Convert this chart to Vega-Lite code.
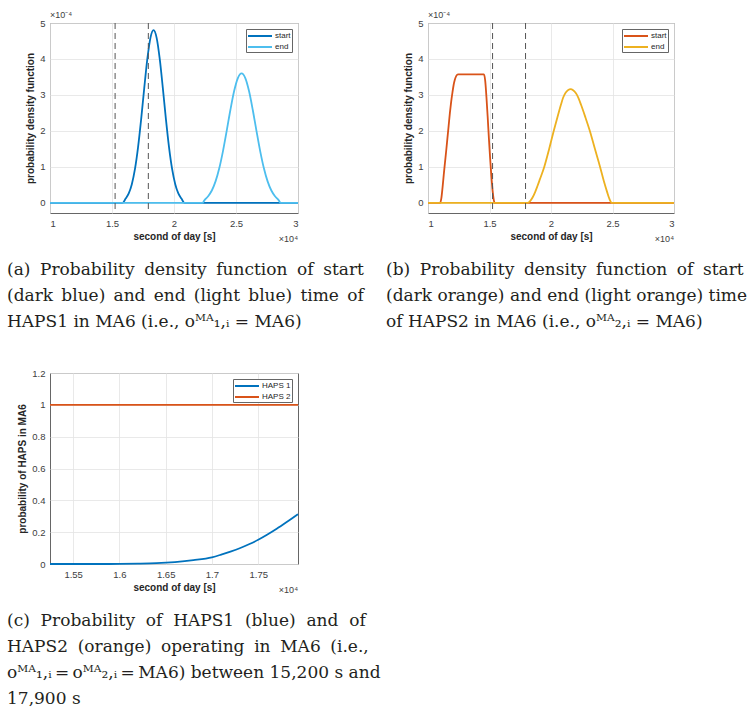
{
  "$schema": "https://vega.github.io/schema/vega-lite/v6.json",
  "padding": {"left": 6, "top": 10, "right": 0, "bottom": 0},
  "background": "white",
  "datasets": {
    "a": [
      {"x": 10000, "pdf": 0, "series": "start"},
      {"x": 15850, "pdf": 0, "series": "start"},
      {"x": 16100, "pdf": 0.12e-4, "series": "start"},
      {"x": 16350, "pdf": 0.263e-4, "series": "start"},
      {"x": 16600, "pdf": 0.52e-4, "series": "start"},
      {"x": 16850, "pdf": 0.937e-4, "series": "start"},
      {"x": 17100, "pdf": 1.544e-4, "series": "start"},
      {"x": 17350, "pdf": 2.32e-4, "series": "start"},
      {"x": 17600, "pdf": 3.19e-4, "series": "start"},
      {"x": 17850, "pdf": 4.0e-4, "series": "start"},
      {"x": 18100, "pdf": 4.587e-4, "series": "start"},
      {"x": 18350, "pdf": 4.8e-4, "series": "start"},
      {"x": 18600, "pdf": 4.587e-4, "series": "start"},
      {"x": 18850, "pdf": 4.0e-4, "series": "start"},
      {"x": 19100, "pdf": 3.19e-4, "series": "start"},
      {"x": 19350, "pdf": 2.32e-4, "series": "start"},
      {"x": 19600, "pdf": 1.544e-4, "series": "start"},
      {"x": 19850, "pdf": 0.937e-4, "series": "start"},
      {"x": 20100, "pdf": 0.52e-4, "series": "start"},
      {"x": 20350, "pdf": 0.263e-4, "series": "start"},
      {"x": 20600, "pdf": 0.12e-4, "series": "start"},
      {"x": 20850, "pdf": 0, "series": "start"},
      {"x": 30000, "pdf": 0, "series": "start"},
      {"x": 10000, "pdf": 0, "series": "end"},
      {"x": 22300, "pdf": 0, "series": "end"},
      {"x": 22450, "pdf": 0.07e-4, "series": "end"},
      {"x": 22750, "pdf": 0.185e-4, "series": "end"},
      {"x": 23050, "pdf": 0.345e-4, "series": "end"},
      {"x": 23350, "pdf": 0.598e-4, "series": "end"},
      {"x": 23650, "pdf": 0.962e-4, "series": "end"},
      {"x": 23950, "pdf": 1.44e-4, "series": "end"},
      {"x": 24250, "pdf": 2.003e-4, "series": "end"},
      {"x": 24550, "pdf": 2.589e-4, "series": "end"},
      {"x": 24850, "pdf": 3.109e-4, "series": "end"},
      {"x": 25150, "pdf": 3.47e-4, "series": "end"},
      {"x": 25450, "pdf": 3.6e-4, "series": "end"},
      {"x": 25750, "pdf": 3.47e-4, "series": "end"},
      {"x": 26050, "pdf": 3.109e-4, "series": "end"},
      {"x": 26350, "pdf": 2.589e-4, "series": "end"},
      {"x": 26650, "pdf": 2.003e-4, "series": "end"},
      {"x": 26950, "pdf": 1.44e-4, "series": "end"},
      {"x": 27250, "pdf": 0.962e-4, "series": "end"},
      {"x": 27550, "pdf": 0.598e-4, "series": "end"},
      {"x": 27850, "pdf": 0.345e-4, "series": "end"},
      {"x": 28150, "pdf": 0.185e-4, "series": "end"},
      {"x": 28450, "pdf": 0.07e-4, "series": "end"},
      {"x": 28600, "pdf": 0, "series": "end"},
      {"x": 30000, "pdf": 0, "series": "end"}
    ],
    "b": [
      {"x": 10000, "pdf": 0, "series": "start"},
      {"x": 10980, "pdf": 0, "series": "start"},
      {"x": 11080, "pdf": 0.12e-4, "series": "start"},
      {"x": 11180, "pdf": 0.42e-4, "series": "start"},
      {"x": 11280, "pdf": 0.78e-4, "series": "start"},
      {"x": 11380, "pdf": 1.12e-4, "series": "start"},
      {"x": 11480, "pdf": 1.45e-4, "series": "start"},
      {"x": 11580, "pdf": 1.8e-4, "series": "start"},
      {"x": 11680, "pdf": 2.15e-4, "series": "start"},
      {"x": 11780, "pdf": 2.5e-4, "series": "start"},
      {"x": 11880, "pdf": 2.8e-4, "series": "start"},
      {"x": 11980, "pdf": 3.05e-4, "series": "start"},
      {"x": 12080, "pdf": 3.27e-4, "series": "start"},
      {"x": 12180, "pdf": 3.42e-4, "series": "start"},
      {"x": 12300, "pdf": 3.53e-4, "series": "start"},
      {"x": 12440, "pdf": 3.57e-4, "series": "start"},
      {"x": 14550, "pdf": 3.57e-4, "series": "start"},
      {"x": 14650, "pdf": 3.4e-4, "series": "start"},
      {"x": 14750, "pdf": 2.95e-4, "series": "start"},
      {"x": 14850, "pdf": 2.4e-4, "series": "start"},
      {"x": 14950, "pdf": 1.8e-4, "series": "start"},
      {"x": 15050, "pdf": 1.25e-4, "series": "start"},
      {"x": 15150, "pdf": 0.75e-4, "series": "start"},
      {"x": 15250, "pdf": 0.35e-4, "series": "start"},
      {"x": 15350, "pdf": 0.08e-4, "series": "start"},
      {"x": 15420, "pdf": 0, "series": "start"},
      {"x": 30000, "pdf": 0, "series": "start"},
      {"x": 10000, "pdf": 0, "series": "end"},
      {"x": 18075, "pdf": 0, "series": "end"},
      {"x": 18300, "pdf": 0.05e-4, "series": "end"},
      {"x": 18500, "pdf": 0.15e-4, "series": "end"},
      {"x": 18710, "pdf": 0.3e-4, "series": "end"},
      {"x": 18900, "pdf": 0.47e-4, "series": "end"},
      {"x": 19100, "pdf": 0.66e-4, "series": "end"},
      {"x": 19450, "pdf": 1.0e-4, "series": "end"},
      {"x": 19850, "pdf": 1.5e-4, "series": "end"},
      {"x": 20220, "pdf": 2.0e-4, "series": "end"},
      {"x": 20600, "pdf": 2.48e-4, "series": "end"},
      {"x": 20800, "pdf": 2.72e-4, "series": "end"},
      {"x": 20990, "pdf": 2.93e-4, "series": "end"},
      {"x": 21200, "pdf": 3.07e-4, "series": "end"},
      {"x": 21400, "pdf": 3.14e-4, "series": "end"},
      {"x": 21595, "pdf": 3.16e-4, "series": "end"},
      {"x": 21800, "pdf": 3.13e-4, "series": "end"},
      {"x": 22000, "pdf": 3.06e-4, "series": "end"},
      {"x": 22200, "pdf": 2.94e-4, "series": "end"},
      {"x": 22450, "pdf": 2.72e-4, "series": "end"},
      {"x": 22800, "pdf": 2.375e-4, "series": "end"},
      {"x": 23160, "pdf": 2.0e-4, "series": "end"},
      {"x": 23580, "pdf": 1.49e-4, "series": "end"},
      {"x": 23990, "pdf": 1.0e-4, "series": "end"},
      {"x": 24300, "pdf": 0.6e-4, "series": "end"},
      {"x": 24565, "pdf": 0.3e-4, "series": "end"},
      {"x": 24750, "pdf": 0.11e-4, "series": "end"},
      {"x": 24950, "pdf": 0, "series": "end"},
      {"x": 30000, "pdf": 0, "series": "end"}
    ],
    "c": [
      {"x": 15250, "p": 0, "series": "HAPS 1"},
      {"x": 15500, "p": 0, "series": "HAPS 1"},
      {"x": 15750, "p": 0, "series": "HAPS 1"},
      {"x": 16000, "p": 0.0005, "series": "HAPS 1"},
      {"x": 16200, "p": 0.002, "series": "HAPS 1"},
      {"x": 16400, "p": 0.005, "series": "HAPS 1"},
      {"x": 16600, "p": 0.012, "series": "HAPS 1"},
      {"x": 16800, "p": 0.024, "series": "HAPS 1"},
      {"x": 17000, "p": 0.042, "series": "HAPS 1"},
      {"x": 17100, "p": 0.059, "series": "HAPS 1"},
      {"x": 17200, "p": 0.078, "series": "HAPS 1"},
      {"x": 17300, "p": 0.099, "series": "HAPS 1"},
      {"x": 17400, "p": 0.124, "series": "HAPS 1"},
      {"x": 17500, "p": 0.152, "series": "HAPS 1"},
      {"x": 17600, "p": 0.185, "series": "HAPS 1"},
      {"x": 17700, "p": 0.221, "series": "HAPS 1"},
      {"x": 17800, "p": 0.26, "series": "HAPS 1"},
      {"x": 17930, "p": 0.313, "series": "HAPS 1"},
      {"x": 15250, "p": 1, "series": "HAPS 2"},
      {"x": 17930, "p": 1, "series": "HAPS 2"}
    ],
    "bounds": [{"x": 15250}, {"x": 17930}]
  },
  "concat": [
    {
      "width": 248,
      "height": 190,
      "title": {
        "text": ["(a) \u2005Probability \u2005density \u2005function \u2005of \u2005start", "(dark \u2006blue) \u2006and \u2006end \u2006(light \u2006blue) \u2006time \u2006of", "HAPS1 in MA6 (i.e., oᴹᴬ₁,ᵢ = MA6)"],
        "orient": "bottom", "anchor": "start", "frame": "group", "dx": -43
      },
      "layer": [
        {
          "data": {"name": "a"},
          "transform": [{"filter": "datum.series === 'start'"}],
          "mark": {"type": "line", "strokeWidth": 1.8, "interpolate": "monotone"},
          "encoding": {
            "x": {"field": "x", "type": "quantitative", "scale": {"domain": [10000, 30000], "nice": false},
                  "axis": {"title": "second of day [s]", "values": [10000, 15000, 20000, 25000, 30000], "tickCount": 20, "labelExpr": "datum.value/10000"}},
            "y": {"field": "pdf", "type": "quantitative", "scale": {"domain": [-0.000028, 0.0005], "nice": false, "zero": false},
                  "axis": {"title": "probability density function", "values": [0, 0.0001, 0.0002, 0.0003, 0.0004, 0.0005], "tickCount": 20, "labelExpr": "round(datum.value*10000)"}},
            "color": {"field": "series", "type": "nominal", "scale": {"domain": ["start", "end"], "range": ["#0072BD", "#4DBEEE"]}, "legend": {"title": null}}
          }
        },
        {
          "data": {"name": "a"},
          "transform": [{"filter": "datum.series === 'end'"}],
          "mark": {"type": "line", "strokeWidth": 1.8, "interpolate": "monotone"},
          "encoding": {
            "x": {"field": "x", "type": "quantitative"},
            "y": {"field": "pdf", "type": "quantitative"},
            "color": {"field": "series", "type": "nominal"}
          }
        },
        {
          "data": {"name": "bounds"},
          "mark": {"type": "rule", "strokeDash": [6, 4], "color": "#555555", "strokeWidth": 1},
          "encoding": {"x": {"field": "x", "type": "quantitative"}}
        },
        {
          "data": {"values": [{}]},
          "mark": {"type": "text", "text": "×10⁻⁴", "align": "left", "baseline": "bottom", "dy": -3, "fontSize": 9, "color": "#404040"},
          "encoding": {"x": {"datum": 10000}, "y": {"datum": 0.0005}}
        },
        {
          "data": {"values": [{}]},
          "mark": {"type": "text", "text": "×10⁴", "align": "right", "baseline": "top", "dy": 22, "fontSize": 9, "color": "#404040"},
          "encoding": {"x": {"datum": 30000}, "y": {"datum": -0.000028}}
        }
      ]
    },
    {
      "width": 246,
      "height": 190,
      "title": {
        "text": ["(b) \u2005Probability \u2005density \u2005function \u2005of \u2005start", "(dark orange) and end (light orange) time", "of HAPS2 in MA6 (i.e., oᴹᴬ₂,ᵢ = MA6)"],
        "orient": "bottom", "anchor": "start", "frame": "group", "dx": -42
      },
      "layer": [
        {
          "data": {"name": "b"},
          "transform": [{"filter": "datum.series === 'start'"}],
          "mark": {"type": "line", "strokeWidth": 1.8, "interpolate": "monotone"},
          "encoding": {
            "x": {"field": "x", "type": "quantitative", "scale": {"domain": [10000, 30000], "nice": false},
                  "axis": {"title": "second of day [s]", "values": [10000, 15000, 20000, 25000, 30000], "tickCount": 20, "labelExpr": "datum.value/10000"}},
            "y": {"field": "pdf", "type": "quantitative", "scale": {"domain": [-0.000028, 0.0005], "nice": false, "zero": false},
                  "axis": {"title": "probability density function", "values": [0, 0.0001, 0.0002, 0.0003, 0.0004, 0.0005], "tickCount": 20, "labelExpr": "round(datum.value*10000)"}},
            "color": {"field": "series", "type": "nominal", "scale": {"domain": ["start", "end"], "range": ["#D95319", "#EDB120"]}, "legend": {"title": null}}
          }
        },
        {
          "data": {"name": "b"},
          "transform": [{"filter": "datum.series === 'end'"}],
          "mark": {"type": "line", "strokeWidth": 1.8, "interpolate": "monotone"},
          "encoding": {
            "x": {"field": "x", "type": "quantitative"},
            "y": {"field": "pdf", "type": "quantitative"},
            "color": {"field": "series", "type": "nominal"}
          }
        },
        {
          "data": {"name": "bounds"},
          "mark": {"type": "rule", "strokeDash": [6, 4], "color": "#555555", "strokeWidth": 1},
          "encoding": {"x": {"field": "x", "type": "quantitative"}}
        },
        {
          "data": {"values": [{}]},
          "mark": {"type": "text", "text": "×10⁻⁴", "align": "left", "baseline": "bottom", "dy": -3, "fontSize": 9, "color": "#404040"},
          "encoding": {"x": {"datum": 10000}, "y": {"datum": 0.0005}}
        },
        {
          "data": {"values": [{}]},
          "mark": {"type": "text", "text": "×10⁴", "align": "right", "baseline": "top", "dy": 22, "fontSize": 9, "color": "#404040"},
          "encoding": {"x": {"datum": 30000}, "y": {"datum": -0.000028}}
        }
      ]
    },
    {
      "width": 248,
      "height": 191,
      "title": {
        "text": ["(c) \u00a0Probability \u00a0of \u00a0HAPS1 \u00a0(blue) \u00a0and \u00a0of", "HAPS2 \u2005(orange) \u2005operating \u2005in \u2005MA6 \u2005(i.e.,", "oᴹᴬ₁,ᵢ\u2009=\u2009oᴹᴬ₂,ᵢ\u2009=\u2009MA6) between 15,200 s and", "17,900 s"],
        "orient": "bottom", "anchor": "start", "frame": "group", "dx": -43
      },
      "layer": [
        {
          "data": {"name": "c"},
          "mark": {"type": "line", "strokeWidth": 1.8, "interpolate": "monotone"},
          "encoding": {
            "x": {"field": "x", "type": "quantitative", "scale": {"domain": [15250, 17930], "nice": false, "zero": false},
                  "axis": {"title": "second of day [s]", "values": [15500, 16000, 16500, 17000, 17500], "tickCount": 20, "labelExpr": "datum.value/10000"}},
            "y": {"field": "p", "type": "quantitative", "scale": {"domain": [0, 1.2], "nice": false},
                  "axis": {"title": "probability of HAPS in MA6", "values": [0, 0.2, 0.4, 0.6, 0.8, 1, 1.2], "tickCount": 20, "labelExpr": "datum.value + ''"}},
            "color": {"field": "series", "type": "nominal", "scale": {"domain": ["HAPS 1", "HAPS 2"], "range": ["#0072BD", "#D95319"]}, "legend": {"title": null}}
          }
        },
        {
          "data": {"values": [{}]},
          "mark": {"type": "text", "text": "×10⁴", "align": "right", "baseline": "top", "dy": 22, "fontSize": 9, "color": "#404040"},
          "encoding": {"x": {"datum": 17930}, "y": {"datum": 0}}
        }
      ]
    }
  ],
  "columns": 2,
  "spacing": {"row": 160, "column": 130},
  "bounds": "flush",
  "resolve": {
    "scale": {"color": "independent", "x": "independent", "y": "independent"},
    "legend": {"color": "independent"}
  },
  "config": {
    "font": "Liberation Sans",
    "view": {"stroke": "#666666", "strokeWidth": 1},
    "axis": {
      "labelFont": "Liberation Sans", "labelFontSize": 9.5, "labelColor": "#404040",
      "titleFont": "Liberation Sans", "titleFontSize": 10, "titleFontWeight": "bold", "titleColor": "#262626",
      "gridColor": "#e3e3e3", "gridWidth": 0.8, "domain": false, "ticks": false,
      "labelPadding": 5, "titlePadding": 4
    },
    "legend": {
      "orient": "top-right", "offset": 6, "fillColor": "white", "strokeColor": "#666666",
      "padding": 1, "symbolType": "M-2.4,0H2.4", "symbolSize": 100, "symbolStrokeWidth": 2,
      "symbolOffset": 7, "labelOffset": 9,
      "labelFont": "Liberation Sans", "labelFontSize": 8, "labelColor": "#262626",
      "rowPadding": 1
    },
    "title": {
      "font": "DejaVu Serif", "fontSize": 17, "fontWeight": "normal", "color": "#231f20",
      "lineHeight": 26, "offset": 18, "align": "left"
    }
  }
}
